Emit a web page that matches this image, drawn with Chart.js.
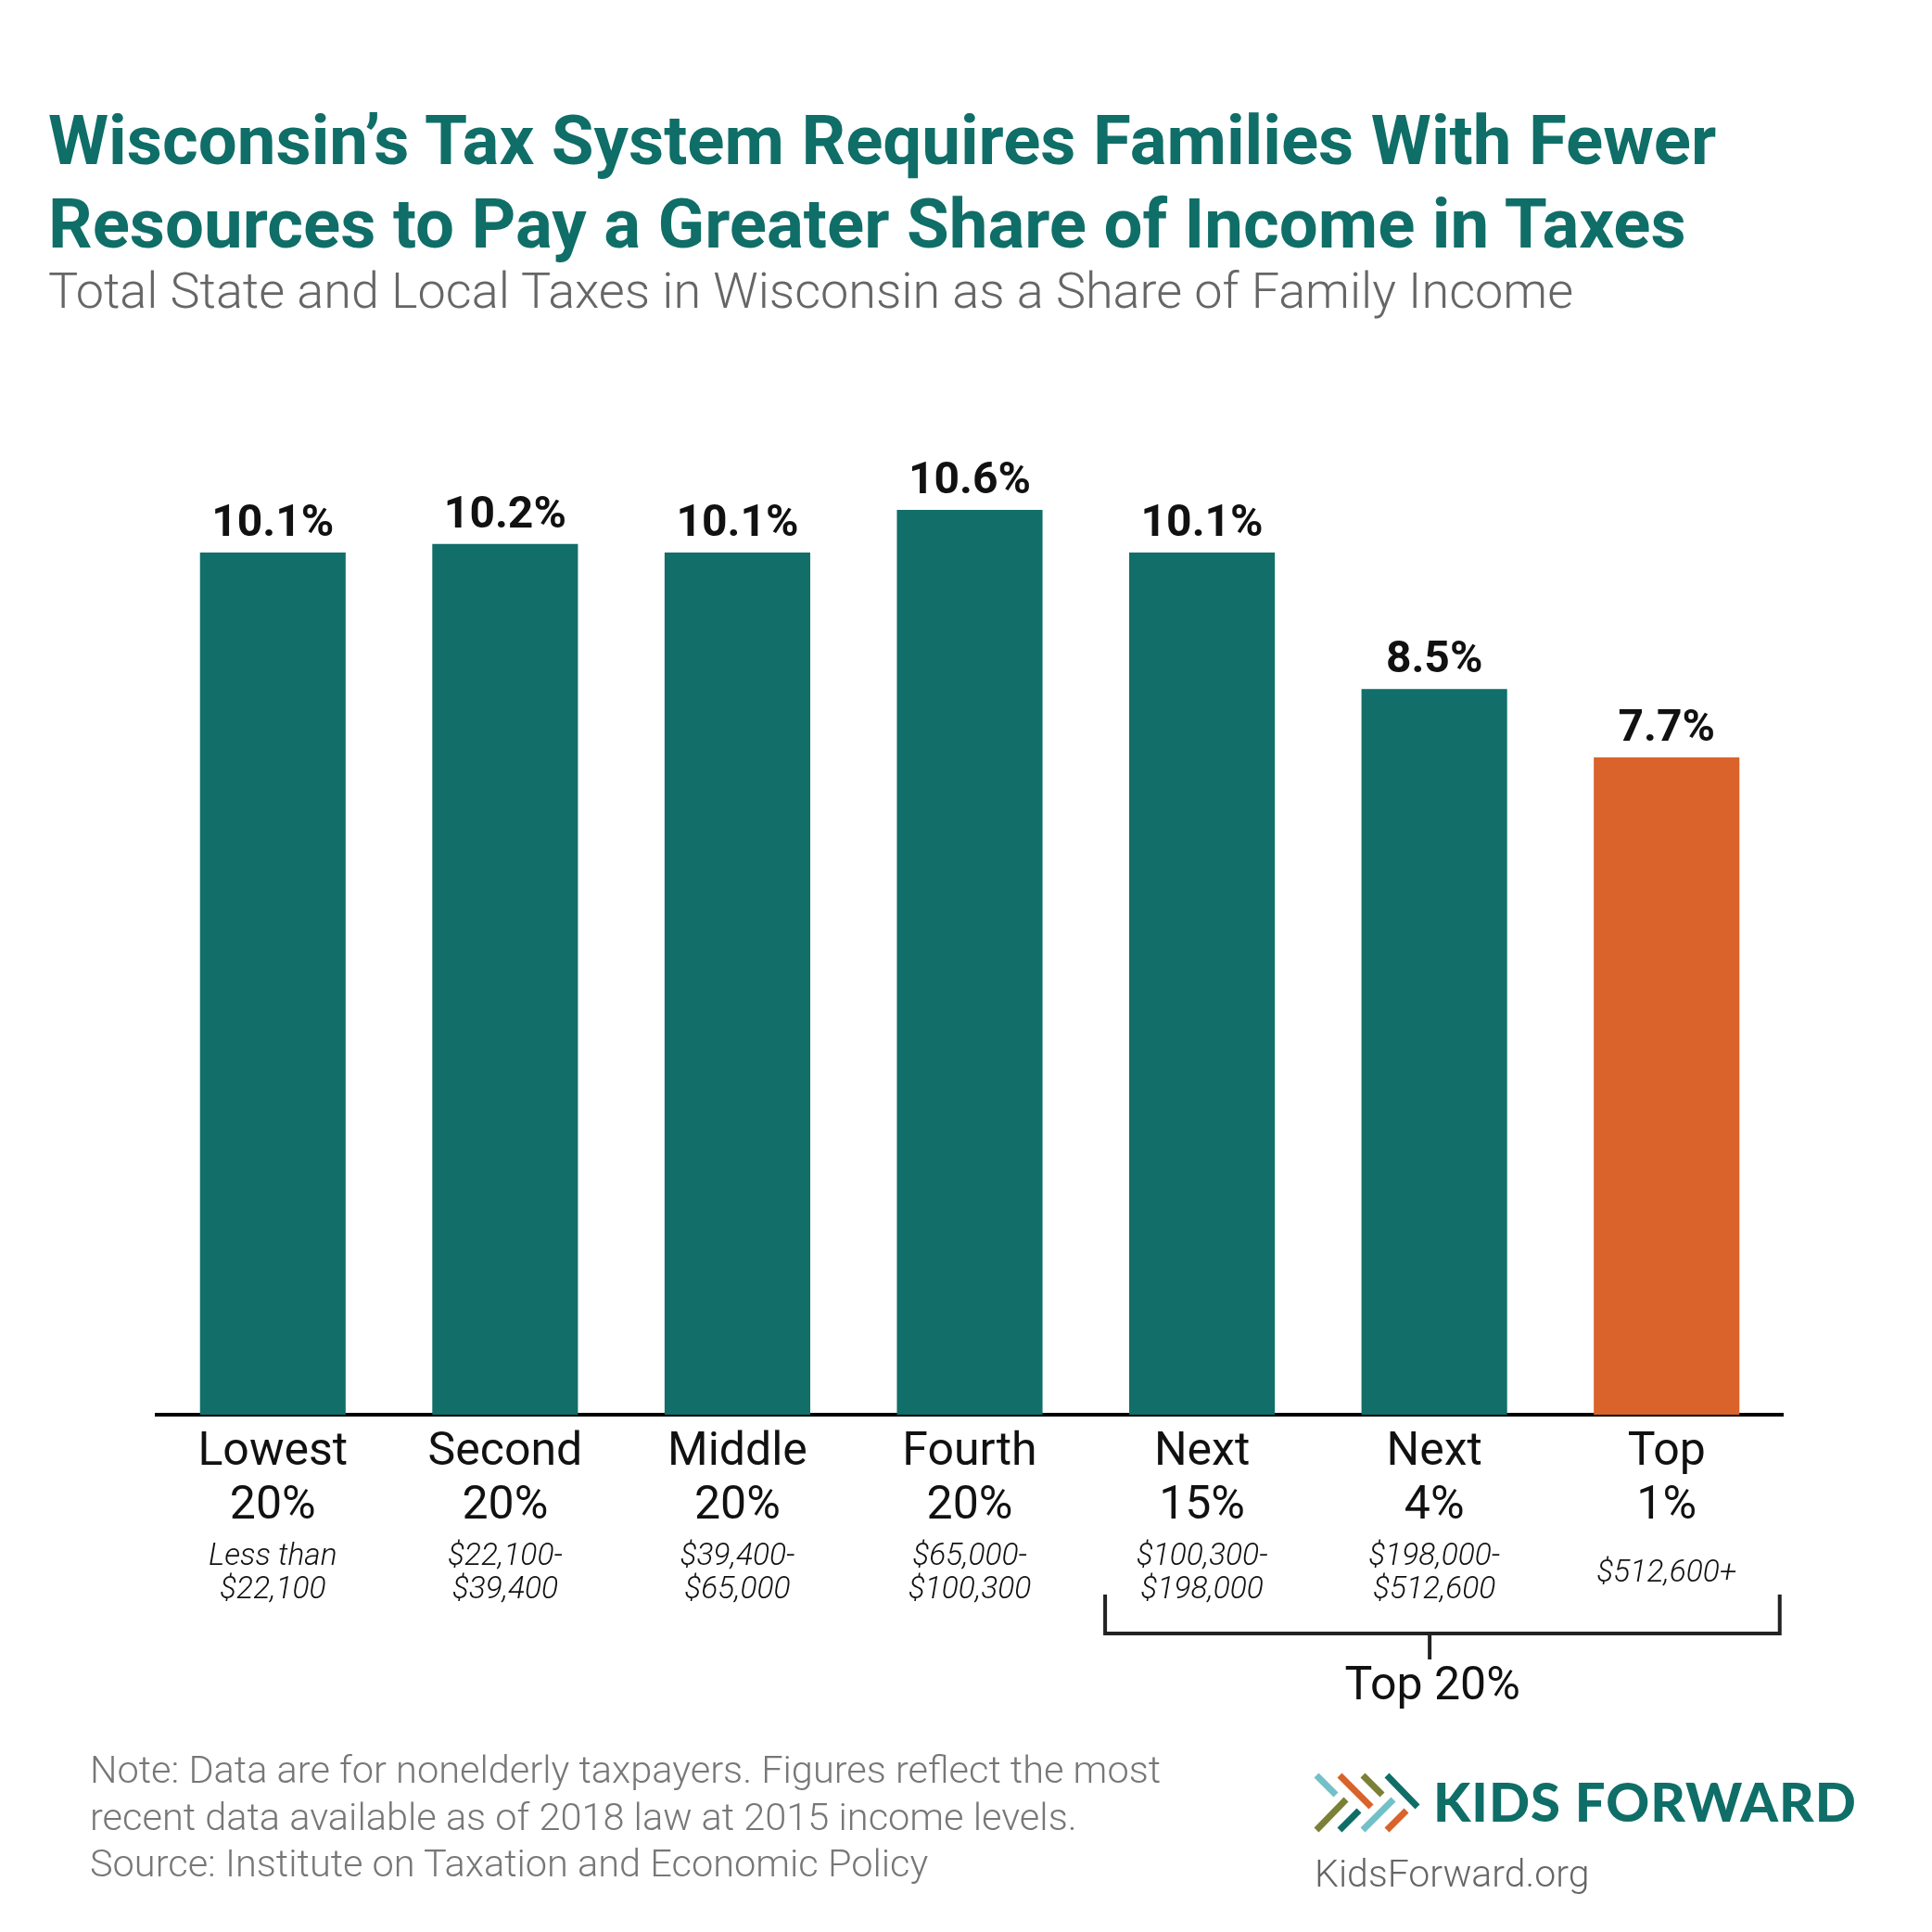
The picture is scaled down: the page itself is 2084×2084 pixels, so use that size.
<!DOCTYPE html>
<html>
<head>
<meta charset="utf-8">
<title>Wisconsin Tax System</title>
<script src="https://cdn.jsdelivr.net/npm/chart.js"></script>
<style>
    html, body { margin: 0; padding: 0; background: #fff; }
    #page { position: relative; width: 2084px; height: 2084px; overflow: hidden; font-family: Roboto, sans-serif; }
    #chartCanvas { position: absolute; left: 0; top: 0; }
    .title { position: absolute; left: 52px; top: 107px; font-size: 74.4px; line-height: 90px; font-weight: 700; color: #0f6e67; white-space: nowrap; }
    .subtitle { position: absolute; left: 52px; top: 284px; font-size: 54px; line-height: 60px; font-weight: 300; color: #666; white-space: nowrap; }
    .note { position: absolute; left: 97px; top: 1884px; font-size: 41.5px; line-height: 50.5px; font-weight: 300; color: #777; white-space: nowrap; }
    .brand { position: absolute; left: 1546px; top: 1908px; font-family: Lato, sans-serif; font-size: 58px; line-height: 70px; font-weight: 900; color: #0f6e67; letter-spacing: 1px; white-space: nowrap; }
    .site { position: absolute; left: 1418px; top: 1997px; font-size: 41px; line-height: 48px; font-weight: 300; color: #666; white-space: nowrap; }
    #logo { position: absolute; left: 1410px; top: 1905px; }
</style>
</head>
<body>
<div id="page">
    <canvas id="chartCanvas" width="2084" height="2084"></canvas>
    <div class="title">Wisconsin’s Tax System Requires Families With Fewer<br>Resources to Pay a Greater Share of Income in Taxes</div>
    <div class="subtitle">Total State and Local Taxes in Wisconsin as a Share of Family Income</div>
    <div class="note">Note: Data are for nonelderly taxpayers. Figures reflect the most<br>recent data available as of 2018 law at 2015 income levels.<br>Source: Institute on Taxation and Economic Policy</div>
    <svg id="logo" width="130" height="80" viewBox="1410 1905 130 80">
        <g stroke-width="7" stroke-linecap="butt">
            <line x1="1420" y1="1915" x2="1441" y2="1936" stroke="#74c0c8"/>
            <line x1="1420" y1="1974" x2="1452" y2="1941" stroke="#7a8035"/>
            <line x1="1445" y1="1915" x2="1479" y2="1949" stroke="#d9632b"/>
            <line x1="1445" y1="1974" x2="1466" y2="1953" stroke="#0f6e67"/>
            <line x1="1470" y1="1915" x2="1491" y2="1936" stroke="#7a8035"/>
            <line x1="1470" y1="1974" x2="1503" y2="1941" stroke="#74c0c8"/>
            <line x1="1496" y1="1915" x2="1529" y2="1949" stroke="#0f6e67"/>
            <line x1="1496" y1="1974" x2="1517" y2="1953" stroke="#d9632b"/>
        </g>
    </svg>
    <div class="brand">KIDS FORWARD</div>
    <div class="site">KidsForward.org</div>
</div>

<script>
// chart data
var groups = [["Lowest", "20%"], ["Second", "20%"], ["Middle", "20%"], ["Fourth", "20%"], ["Next", "15%"], ["Next", "4%"], ["Top", "1%"]];
var incomeRanges = [["Less than", "$22,100"], ["$22,100-", "$39,400"], ["$39,400-", "$65,000"], ["$65,000-", "$100,300"], ["$100,300-", "$198,000"], ["$198,000-", "$512,600"], ["$512,600+"]];
var taxShare = [10.1, 10.2, 10.1, 10.6, 10.1, 8.5, 7.7];
var bracketLabel = "Top 20%";

var TEAL = '#116e69';
var ORANGE = '#d9632b';

var barColors = taxShare.map(function (v, i) {
    return i === taxShare.length - 1 ? ORANGE : TEAL;
});

// value labels above each bar
var valueLabels = {
    id: 'valueLabels',
    afterDatasetsDraw: function (chart) {
        var ctx = chart.ctx;
        var meta = chart.getDatasetMeta(0);
        ctx.save();
        ctx.font = 'bold 48px Roboto';
        ctx.fillStyle = '#111';
        ctx.textAlign = 'center';
        ctx.textBaseline = 'alphabetic';
        meta.data.forEach(function (bar, i) {
            ctx.fillText(taxShare[i].toFixed(1) + '%', bar.x, bar.y - 18);
        });
        ctx.restore();
    }
};

// income ranges under the tick labels, plus the Top 20% bracket
var incomeAndBracket = {
    id: 'incomeAndBracket',
    afterDraw: function (chart) {
        var ctx = chart.ctx;
        var x = chart.scales.x;
        var base = chart.chartArea.bottom;
        var cw = (chart.chartArea.right - chart.chartArea.left) / groups.length;
        ctx.save();
        ctx.fillStyle = '#111';
        ctx.textAlign = 'center';
        ctx.font = 'italic 300 33.5px Roboto';
        incomeRanges.forEach(function (lines, i) {
            var cx = x.getPixelForValue(i);
            if (lines.length === 1) {
                ctx.fillText(lines[0], cx, base + 180);
            } else {
                ctx.fillText(lines[0], cx, base + 162);
                ctx.fillText(lines[1], cx, base + 198);
            }
        });

        var left = x.getPixelForValue(4) - 0.417 * cw;
        var right = x.getPixelForValue(6) + 0.487 * cw;
        var mid = x.getPixelForValue(5) - 5;
        ctx.strokeStyle = '#222';
        ctx.lineWidth = 4;
        ctx.beginPath();
        ctx.moveTo(left, base + 194);
        ctx.lineTo(left, base + 236);
        ctx.lineTo(right, base + 236);
        ctx.lineTo(right, base + 194);
        ctx.moveTo(mid, base + 238);
        ctx.lineTo(mid, base + 264);
        ctx.stroke();

        ctx.font = '50px Roboto';
        ctx.fillText(bracketLabel, mid + 3, base + 307);
        ctx.restore();
    }
};

var ctx = document.getElementById('chartCanvas');
var taxChart = new Chart(ctx, {
    type: 'bar',
    data: {
        labels: groups,
        datasets: [{
            data: taxShare,
            backgroundColor: barColors,
            borderWidth: 0,
            categoryPercentage: 1,
            barPercentage: 0.627
        }]
    },
    options: {
        responsive: false,
        animation: false,
        layout: {
            padding: { left: 169, right: 161, top: 421, bottom: 418 }
        },
        plugins: {
            legend: { display: false },
            tooltip: { enabled: false }
        },
        scales: {
            y: {
                display: false,
                min: 0,
                max: 12
            },
            x: {
                grid: { display: false, drawTicks: false },
                border: { display: true, color: '#000', width: 4 },
                ticks: {
                    color: '#111',
                    padding: 12,
                    maxRotation: 0,
                    autoSkip: false,
                    font: { family: 'Roboto', size: 50, lineHeight: 1.17 }
                },
                afterFit: function (scale) {
                    scale.height = 140;
                }
            }
        }
    },
    plugins: [valueLabels, incomeAndBracket]
});
</script>
</body>
</html>
